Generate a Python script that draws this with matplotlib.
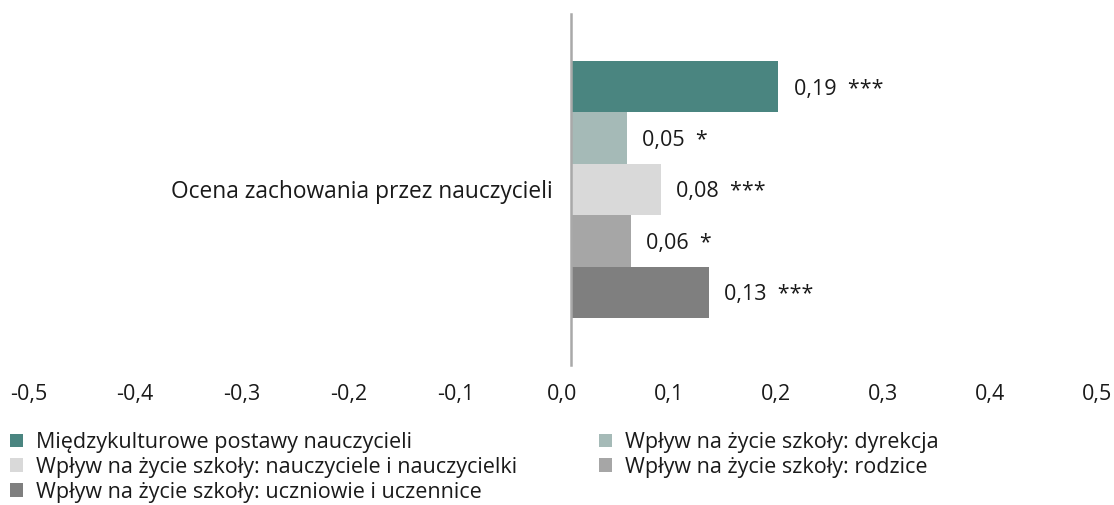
import matplotlib
matplotlib.use("Agg")
import matplotlib.pyplot as plt
from matplotlib.patches import Patch
from matplotlib.transforms import ScaledTranslation

# ---- data ----
categories = ["Ocena zachowania przez nauczycieli"]
series_names = [
    "Międzykulturowe postawy nauczycieli",
    "Wpływ na życie szkoły: dyrekcja",
    "Wpływ na życie szkoły: nauczyciele i nauczycielki",
    "Wpływ na życie szkoły: rodzice",
    "Wpływ na życie szkoły: uczniowie i uczennice",
]
values = [0.194, 0.052, 0.084, 0.056, 0.129]
significance = ["***", "*", "***", "*", "***"]
x_ticks = [-0.5, -0.4, -0.3, -0.2, -0.1, 0.0, 0.1, 0.2, 0.3, 0.4, 0.5]
x_tick_labels = ["-0,5", "-0,4", "-0,3", "-0,2", "-0,1", "0,0", "0,1", "0,2", "0,3", "0,4", "0,5"]

colors = ["#4a8580", "#a5bab7", "#d9d9d9", "#a6a6a6", "#7f7f7f"]

FONT = "Open Sans"
FS = 15.5
plt.rcParams["font.family"] = [FONT, "DejaVu Sans"]
plt.rcParams["font.size"] = FS
TXT = "#1a1a1a"

W, H = 1114, 505
fig = plt.figure(figsize=(W / 100, H / 100), dpi=100)
ax_left, ax_right = 36.7, 1105.2
ax_top, ax_bot = 14, 365
ax = fig.add_axes([ax_left / W, 1 - ax_bot / H, (ax_right - ax_left) / W, (ax_bot - ax_top) / H])

n = len(series_names)
bar_h = 0.1465
for i, (name, v, c) in enumerate(zip(series_names, values, colors)):
    y = 0 + (i - (n - 1) / 2) * bar_h
    ax.barh(y, v, height=bar_h, color=c, label=name, linewidth=0)
    lbl = f"{v:.2f}".replace(".", ",") + "  " + significance[i]
    ax.annotate(lbl, xy=(v, y), xytext=(11, 0), textcoords="offset points",
                ha="left", va="center_baseline", color=TXT, fontsize=FS)

ax.set_xlim(-0.5, 0.5)
ax.set_ylim(-0.5, 0.5)
ax.invert_yaxis()

# spines
for s in ["top", "right", "bottom"]:
    ax.spines[s].set_visible(False)
ax.spines["left"].set_position(("data", 0))
ax.spines["left"].set_color("#a9a9a9")
ax.spines["left"].set_linewidth(1.8)

ax.set_yticks([0])
ax.set_yticklabels(categories, color=TXT, fontsize=16.4)
ax.tick_params(axis="y", length=0, pad=13)

ax.set_xticks(x_ticks)
ax.set_xticklabels(x_tick_labels, color=TXT)
ax.tick_params(axis="x", length=0, pad=14)
shift = ScaledTranslation(-0.084, 0, fig.dpi_scale_trans)
for lab in ax.get_xticklabels():
    lab.set_transform(lab.get_transform() + shift)

# legend (two columns placed separately)
handles = [Patch(facecolor=c, edgecolor="none") for c in colors]
left_idx = [0, 2, 4]
right_idx = [1, 3]
common = dict(frameon=False, borderpad=0, borderaxespad=0, handlelength=0.6,
              handleheight=0.6, handletextpad=0.6, labelspacing=0.18,
              fontsize=FS, labelcolor=TXT)
leg1 = fig.legend([handles[i] for i in left_idx], [series_names[i] for i in left_idx],
                  loc="upper left", bbox_to_anchor=(10 / W, 1 - 432 / H), **common)
leg2 = fig.legend([handles[i] for i in right_idx], [series_names[i] for i in right_idx],
                  loc="upper left", bbox_to_anchor=(599 / W, 1 - 432 / H), **common)

fig.savefig("out.png", dpi=100, facecolor="white")
